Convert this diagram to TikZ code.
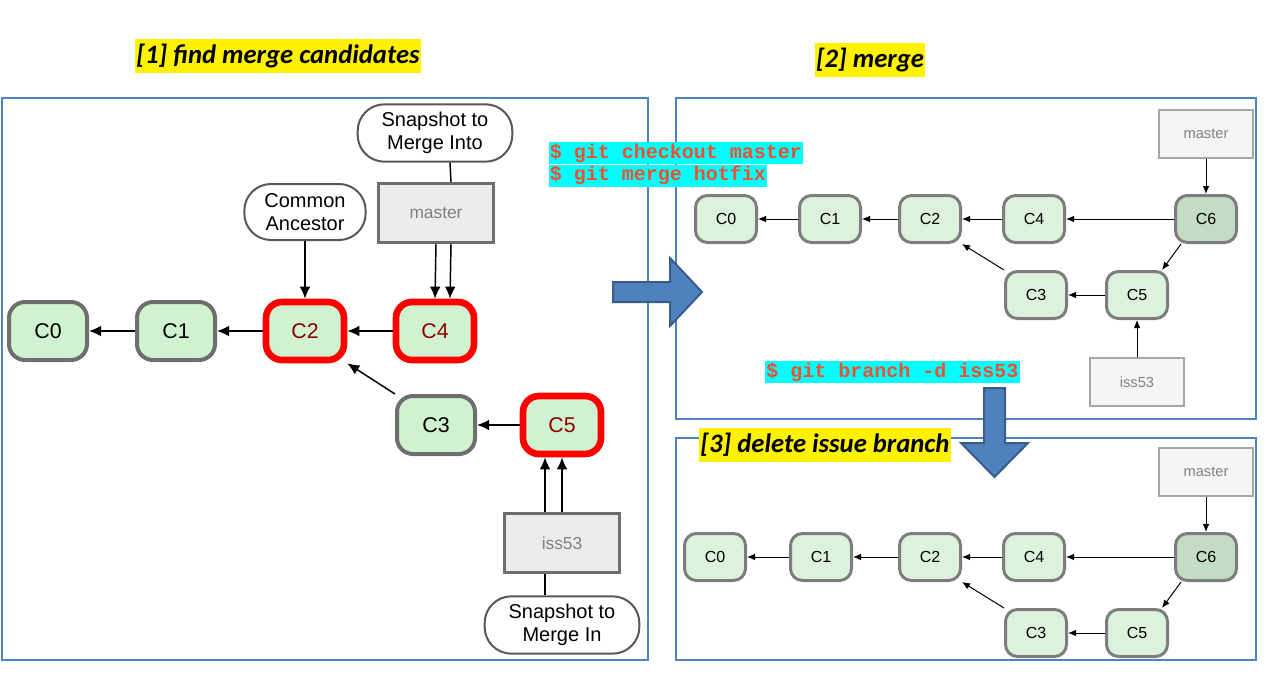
\documentclass[tikz,border=0pt]{standalone}
\usepackage{fontspec}
\setmainfont{Liberation Sans}
\newfontfamily\titlefont{Carlito}
\newfontfamily\cmdfont{Liberation Mono}
\usetikzlibrary{arrows.meta}

\definecolor{panelblue}{RGB}{79,129,189}
\definecolor{arrowedge}{RGB}{56,93,138}
\definecolor{commitfill}{RGB}{208,242,208}
\definecolor{commitpale}{RGB}{220,242,220}
\definecolor{mergefill}{RGB}{196,220,196}
\definecolor{commitline}{RGB}{110,110,110}
\definecolor{cmdred}{RGB}{240,80,50}
\definecolor{cmdcyan}{RGB}{0,255,255}
\definecolor{branchfill}{RGB}{236,236,236}

\begin{document}
\begin{tikzpicture}
    [x=0.75pt, y=-0.75pt,
    panel/.style={draw=panelblue, line width=1.5pt},
    title/.style={
        fill=yellow,
        font=\titlefont\bfseries\itshape\fontsize{20}{22}\selectfont,
        inner xsep=1pt,
        minimum height=25pt
    },
    cmd/.style={
        fill=cmdcyan,
        text=cmdred,
        font=\cmdfont\bfseries\fontsize{15}{16}\selectfont,
        inner xsep=0.75pt,
        inner ysep=0pt,
        minimum height=16.5pt
    },
    commit/.style={
        draw=commitline,
        line width=3pt,
        fill=commitfill,
        rounded corners=12pt,
        minimum width=58.5pt,
        minimum height=43.5pt,
        font=\fontsize{16}{18}\selectfont
    },
    hot/.style={commit, draw=red, line width=5pt, text=red!55!black},
    branch/.style={
        draw=commitline,
        line width=2.25pt,
        fill=branchfill,
        text=gray,
        minimum width=86pt,
        minimum height=44pt,
        font=\fontsize{13}{15}\selectfont
    },
    note/.style={
        draw=commitline!80!black,
        line width=1.5pt,
        fill=white,
        rounded corners=20pt,
        align=center,
        minimum width=116pt,
        minimum height=43pt,
        font=\fontsize{15}{17.5}\selectfont
    },
    minicommit/.style={
        draw=commitline!90,
        line width=2.25pt,
        fill=commitpale,
        rounded corners=9pt,
        minimum width=45.75pt,
        minimum height=35.25pt,
        font=\fontsize{12}{14}\selectfont
    },
    minibranch/.style={
        draw=gray!70,
        line width=1.5pt,
        fill=gray!8,
        text=gray,
        minimum width=71pt,
        minimum height=36pt,
        font=\fontsize{11}{13}\selectfont
    },
    line/.style={draw, line width=1.1pt, -{Latex[length=9pt,width=8pt]}},
    smallline/.style={draw, line width=0.75pt, -{Latex[length=6pt,width=5pt]}},
    bigarrow/.style={fill=panelblue, draw=arrowedge, line width=1.5pt}
    ]

    \useasboundingbox (0,0) rectangle (1281,678);

    % Panels
    \draw[panel] (2,98) rectangle (648,660);
    \draw[panel] (676,98) rectangle (1256,419);
    \draw[panel] (676,438) rectangle (1256,660);

    % [1] find merge candidates
    \node[commit] (C0) at (48,331) {C0};
    \node[commit] (C1) at (176,331) {C1};
    \node[hot] (C2) at (305,331) {C2};
    \node[hot] (C4) at (435,331) {C4};
    \node[commit] (C3) at (436,425) {C3};
    \node[hot] (C5) at (562,425) {C5};
    \node[branch] (master) at (436,213) {master};
    \node[branch] (iss53) at (562,543) {iss53};
    \node[note] (into) at (435,133) {Snapshot to\\Merge Into};
    \node[note, minimum width=91pt, minimum height=42pt] (ancestor) at (305,212) {Common\\Ancestor};
    \node[note] (mergein) at (562,625) {Snapshot to\\Merge In};

    \foreach \a/\b in {C1/C0, C2/C1, C4/C2, C5/C3}
        \path[line] (\a) -- (\b);
    \path[line] (C3.north west) -- (C2.south east);
    \path[line] (ancestor) -- (C2);
    \draw[line width=1.1pt] ([xshift=11.25pt]into.south) -- ([xshift=11.25pt]master.north);
    \path[line] (master.south) -- (C4.north);
    \path[line] ([xshift=11.25pt]master.south) -- ([xshift=11.25pt]C4.north);
    \draw[line width=1.1pt] ([xshift=-12.75pt]iss53.south) -- ([xshift=-12.75pt]mergein.north);
    \path[line] (iss53.north) -- (C5.south);
    \path[line] ([xshift=-12.75pt]iss53.north) -- ([xshift=-12.75pt]C5.south);

    % [2] merge and [3] delete issue branch
    \foreach \p/\y/\xa/\xb in {m/219/726/830, d/557/715/821}{
        \node[minicommit] (\p C0) at (\xa,\y) {C0};
        \node[minicommit] (\p C1) at (\xb,\y) {C1};
        \node[minicommit] (\p C2) at (930,\y) {C2};
        \node[minicommit] (\p C4) at (1034,\y) {C4};
        \node[minicommit, fill=mergefill] (\p C6) at (1206,\y) {C6};
        \node[minicommit] (\p C3) at (1036,\y+76) {C3};
        \node[minicommit] (\p C5) at (1137,\y+76) {C5};
        \node[minibranch] (\p master) at (1206,\y-85) {master};

        \foreach \a/\b in {C1/C0, C2/C1, C4/C2, C6/C4, C5/C3}
            \path[smallline] (\p\a) -- (\p\b);
        \path[smallline] (\p C3.north west) -- (\p C2.south east);
        \path[smallline] (\p C6.-135) -- (\p C5.45);
        \path[smallline] (\p master) -- (\p C6);
    }
    \node[minibranch] (miss53) at (1137,382) {iss53};
    \path[smallline] (miss53) -- (mC5);

    % Commands
    \node[cmd] (checkout) at (676,153) {\$ git checkout master};
    \node[cmd, anchor=north west] (mergecmd) at (checkout.south west) {\$ git merge hotfix};
    \node[cmd] (delete) at (892.5,372) {\$ git branch -d iss53};

    % Titles
    \node[title] (find) at (278,56) {[1] find merge candidates};
    \node[title] (merge) at (870,60) {[2] merge};
    \node[title] (remove) at (825,445) {[3] delete issue branch};

    % Step arrows
    \filldraw[bigarrow] (613,282) -- (670,282) -- (670,258) -- (702,292) -- (670,326) -- (670,302) -- (613,302) -- cycle;
    \filldraw[bigarrow] (984,388) -- (1005,388) -- (1005,443) -- (1028,443) -- (994.5,477) -- (961,443) -- (984,443) -- cycle;
\end{tikzpicture}
\end{document}
